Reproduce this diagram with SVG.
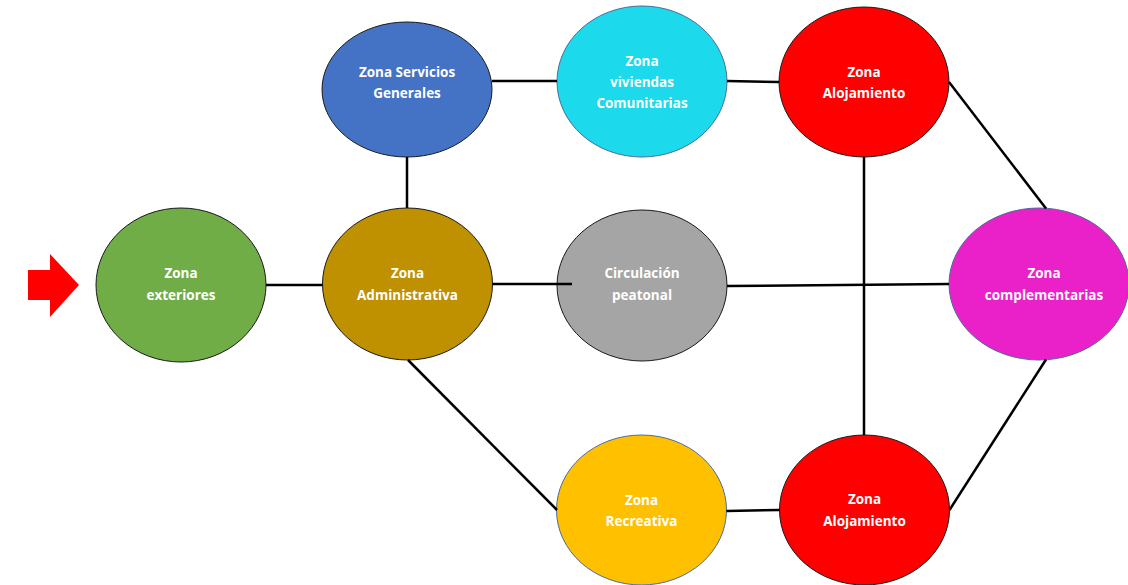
<svg xmlns="http://www.w3.org/2000/svg" width="1128" height="585" viewBox="0 0 1128 585">
<style>
.n{stroke-width:1}
.dk{stroke:#1a1a1a}
.bl{stroke:#4a6d9c}
.t{font-family:"Open Sans","Liberation Sans",sans-serif;font-weight:bold;font-size:13.5px;fill:#ffffff;text-anchor:middle}
.c{stroke:#000;stroke-width:2.5;fill:none}
</style>
<rect width="1128" height="585" fill="#ffffff"/>
<polygon points="28,270 50,270 50,254 79,285 50,317 50,300 28,300" fill="#ff0000"/>
<g id="exteriores">
<ellipse class="n dk" cx="181" cy="285" rx="85" ry="77" fill="#70ad47"/>
<text class="t" x="181" y="278">Zona</text>
<text class="t" x="181" y="300">exteriores</text>
</g>
<g id="servicios">
<ellipse class="n dk" cx="407" cy="89.5" rx="85" ry="67.5" fill="#4472c4"/>
<text class="t" x="407" y="77">Zona Servicios</text>
<text class="t" x="407" y="98">Generales</text>
</g>
<g id="viviendas">
<ellipse class="n bl" cx="642" cy="81.5" rx="85" ry="75.5" fill="#1cd9eb"/>
<text class="t" x="642" y="66">Zona</text>
<text class="t" x="642" y="87">viviendas</text>
<text class="t" x="642" y="108">Comunitarias</text>
</g>
<g id="alojamiento1">
<ellipse class="n dk" cx="864" cy="82" rx="85" ry="75" fill="#ff0000"/>
<text class="t" x="864" y="77">Zona</text>
<text class="t" x="864" y="98">Alojamiento</text>
</g>
<g id="administrativa">
<ellipse class="n dk" cx="407.5" cy="284" rx="85" ry="76" fill="#bf9000"/>
<text class="t" x="407.5" y="278">Zona</text>
<text class="t" x="407.5" y="300">Administrativa</text>
</g>
<g id="circulacion">
<ellipse class="n dk" cx="642" cy="285.5" rx="85" ry="75.5" fill="#a5a5a5"/>
<text class="t" x="642" y="278">Circulación</text>
<text class="t" x="642" y="300">peatonal</text>
</g>
<g id="complementarias">
<ellipse class="n bl" cx="1039" cy="284" rx="90" ry="76" fill="#ea20c8"/>
<text class="t" x="1044" y="278">Zona</text>
<text class="t" x="1044" y="300">complementarias</text>
</g>
<g id="recreativa">
<ellipse class="n bl" cx="641.5" cy="510" rx="85" ry="75" fill="#ffc000"/>
<text class="t" x="641.5" y="505">Zona</text>
<text class="t" x="641.5" y="526">Recreativa</text>
</g>
<g id="alojamiento2">
<ellipse class="n dk" cx="864.5" cy="510" rx="85" ry="75" fill="#ff0000"/>
<text class="t" x="864.5" y="504">Zona</text>
<text class="t" x="864.5" y="526">Alojamiento</text>
</g>
<g id="connectors">
<line class="c" x1="266" y1="285" x2="322.5" y2="285"/>
<line class="c" x1="407" y1="157" x2="407" y2="208"/>
<line class="c" x1="492" y1="81" x2="557" y2="81"/>
<line class="c" x1="727" y1="81" x2="779" y2="82"/>
<line class="c" x1="492.5" y1="284" x2="572" y2="284"/>
<line class="c" x1="727" y1="286" x2="949" y2="284"/>
<line class="c" x1="864" y1="157" x2="864" y2="435"/>
<line class="c" x1="949" y1="82" x2="1046" y2="208.5"/>
<line class="c" x1="1046" y1="359.5" x2="949.5" y2="510"/>
<line class="c" x1="408" y1="360" x2="557" y2="510"/>
<line class="c" x1="726.5" y1="511" x2="779.5" y2="510"/>
</g>
</svg>
